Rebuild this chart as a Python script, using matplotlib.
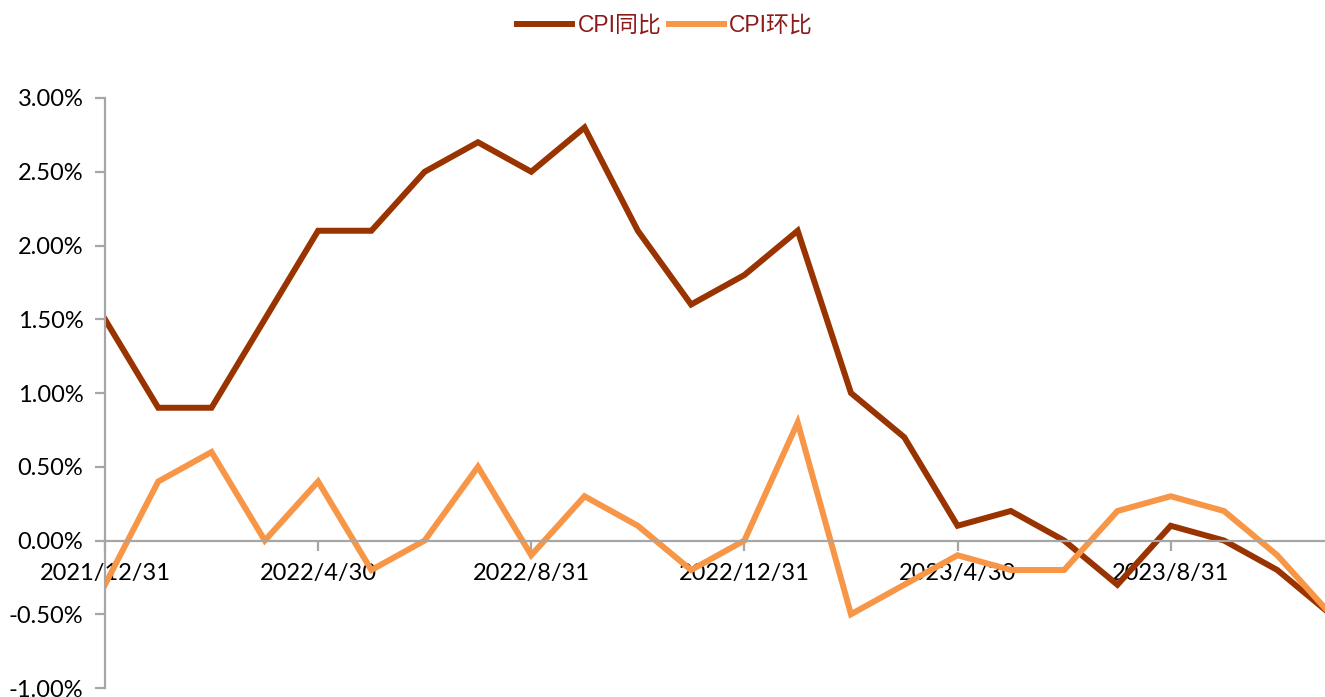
import matplotlib.pyplot as plt

# monthly CPI data, 2021/12 .. 2023/11 (%)
months = ["2021/12/31", "2022/1/31", "2022/2/28", "2022/3/31", "2022/4/30",
          "2022/5/31", "2022/6/30", "2022/7/31", "2022/8/31", "2022/9/30",
          "2022/10/31", "2022/11/30", "2022/12/31", "2023/1/31", "2023/2/28",
          "2023/3/31", "2023/4/30", "2023/5/31", "2023/6/30", "2023/7/31",
          "2023/8/31", "2023/9/30", "2023/10/31", "2023/11/30"]
cpi_yoy = [1.5, 0.9, 0.9, 1.5, 2.1, 2.1, 2.5, 2.7, 2.5, 2.8, 2.1, 1.6,
           1.8, 2.1, 1.0, 0.7, 0.1, 0.2, 0.0, -0.3, 0.1, 0.0, -0.2, -0.5]
cpi_mom = [-0.3, 0.4, 0.6, 0.0, 0.4, -0.2, 0.0, 0.5, -0.1, 0.3, 0.1, -0.2,
           0.0, 0.8, -0.5, -0.3, -0.1, -0.2, -0.2, 0.2, 0.3, 0.2, -0.1, -0.5]
yticks = [-1.0, -0.5, 0.0, 0.5, 1.0, 1.5, 2.0, 2.5, 3.0]

fig = plt.figure(figsize=(13.25, 6.97), dpi=100)
ax = fig.add_axes([0.0792, 0.0129, 0.925, 0.8465])

x = list(range(len(months)))
l1, = ax.plot(x, cpi_yoy, color="#993300", lw=4.3, solid_joinstyle="miter")
l2, = ax.plot(x, cpi_mom, color="#F79646", lw=4.3, solid_joinstyle="miter")

ax.set_xlim(0, len(months) - 1)
ax.set_ylim(-1.0, 3.0)
ax.set_yticks(yticks)
ax.set_yticklabels(["%.2f%%" % v for v in yticks])
tick_idx = x[::4]
ax.set_xticks(tick_idx)
ax.set_xticklabels([months[i] for i in tick_idx])

gray = "#A6A6A6"
for s in ["top", "right"]:
    ax.spines[s].set_visible(False)
ax.spines["left"].set_color(gray)
ax.spines["left"].set_linewidth(1.6)
ax.spines["bottom"].set_position(("data", 0))
ax.spines["bottom"].set_color(gray)
ax.spines["bottom"].set_linewidth(1.6)
ax.tick_params(axis="y", direction="out", length=7, width=1.6, color=gray,
               labelsize=17, pad=8.5)
ax.tick_params(axis="x", direction="out", length=7, width=1.6, color=gray,
               labelsize=17, pad=9)
for lab in ax.get_xticklabels() + ax.get_yticklabels():
    lab.set_family("Lato")

leg = fig.legend([l1, l2], ["CPI同比", "CPI环比"], loc="upper center",
                 bbox_to_anchor=(0.502, 1.01), ncol=2, frameon=False,
                 handlelength=2.4, handletextpad=0.25, columnspacing=0.3,
                 prop={"family": ["Liberation Sans", "Noto Sans CJK SC"], "size": 16.5})
for t in leg.get_texts():
    t.set_color("#8B1A1A")

fig.savefig("out.png", dpi=100)
